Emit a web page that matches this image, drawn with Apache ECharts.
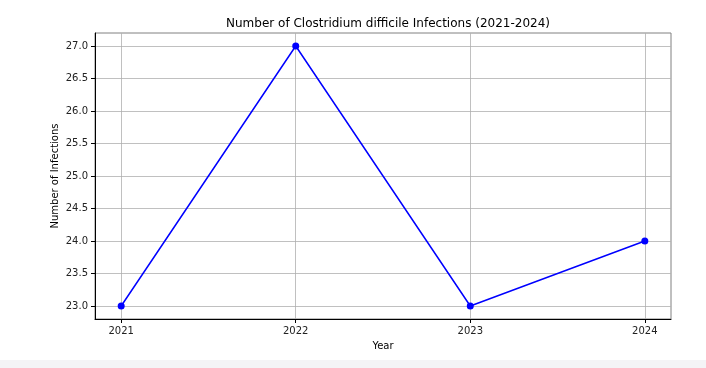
<!DOCTYPE html>
<html>
<head>
<meta charset="utf-8">
<script src="https://cdn.jsdelivr.net/npm/echarts@6/dist/echarts.min.js"></script>
<style>
html,body{margin:0;padding:0;background:#f4f4f6;width:706px;height:368px;overflow:hidden;}
#c{position:absolute;left:0;top:0;width:706px;height:360px;background:#ffffff;}
</style>
</head>
<body>
<div id="c"></div>
<script>
const years = [2021, 2022, 2023, 2024];
const infections = [23, 27, 23, 24];
const xTicks = [2021, 2022, 2023, 2024];
const yTicks = [23.0, 23.5, 24.0, 24.5, 25.0, 25.5, 26.0, 26.5, 27.0];
const titleText = 'Number of Clostridium difficile Infections (2021-2024)';

const chart = echarts.init(document.getElementById('c'), null, {renderer: 'canvas'});
const font = 'DejaVu Sans';
const gridColor = '#b0b0b0';
chart.setOption({
  animation: false,
  title: {
    text: titleText,
    left: 383, top: 13, textAlign: 'center',
    textStyle: {fontFamily: font, fontSize: 12, fontWeight: 'normal', color: '#000'}
  },
  grid: {
    left: 95, right: 35, top: 33, bottom: 41,
    show: true, borderColor: '#808080', borderWidth: 1, backgroundColor: 'transparent'
  },
  xAxis: {
    type: 'value', min: 2020.85, max: 2024.15,
    name: 'Year', nameLocation: 'middle', nameGap: 22, nameMoveOverlap: false,
    nameTextStyle: {fontFamily: font, fontSize: 10, color: '#000'},
    axisLine: {show: true, lineStyle: {color: '#000', width: 1}},
    axisTick: {show: true, customValues: xTicks, length: 4, lineStyle: {color: '#000'}},
    axisLabel: {customValues: xTicks, fontFamily: font, fontSize: 10, color: '#222', margin: 7,
      formatter: v => String(v)},
    splitLine: {show: true, customValues: xTicks, lineStyle: {color: gridColor, width: 0.8}}
  },
  yAxis: {
    type: 'value', min: 22.8, max: 27.2,
    name: 'Number of Infections', nameLocation: 'middle', nameGap: 35, nameRotate: 90, nameMoveOverlap: false,
    nameTextStyle: {fontFamily: font, fontSize: 10, color: '#000'},
    axisLine: {show: true, lineStyle: {color: '#000', width: 1}},
    axisTick: {show: true, customValues: yTicks, length: 4, lineStyle: {color: '#000'}},
    axisLabel: {customValues: yTicks, fontFamily: font, fontSize: 10, color: '#222', margin: 7,
      formatter: v => Number(v).toFixed(1)},
    splitLine: {show: true, customValues: yTicks, lineStyle: {color: gridColor, width: 0.8}}
  },
  series: [{
    type: 'line',
    data: years.map((y, i) => [y, infections[i]]),
    symbol: 'circle', symbolSize: 7,
    lineStyle: {color: '#0000ff', width: 1.5},
    itemStyle: {color: '#0000ff'}
  }]
});
</script>
</body>
</html>
